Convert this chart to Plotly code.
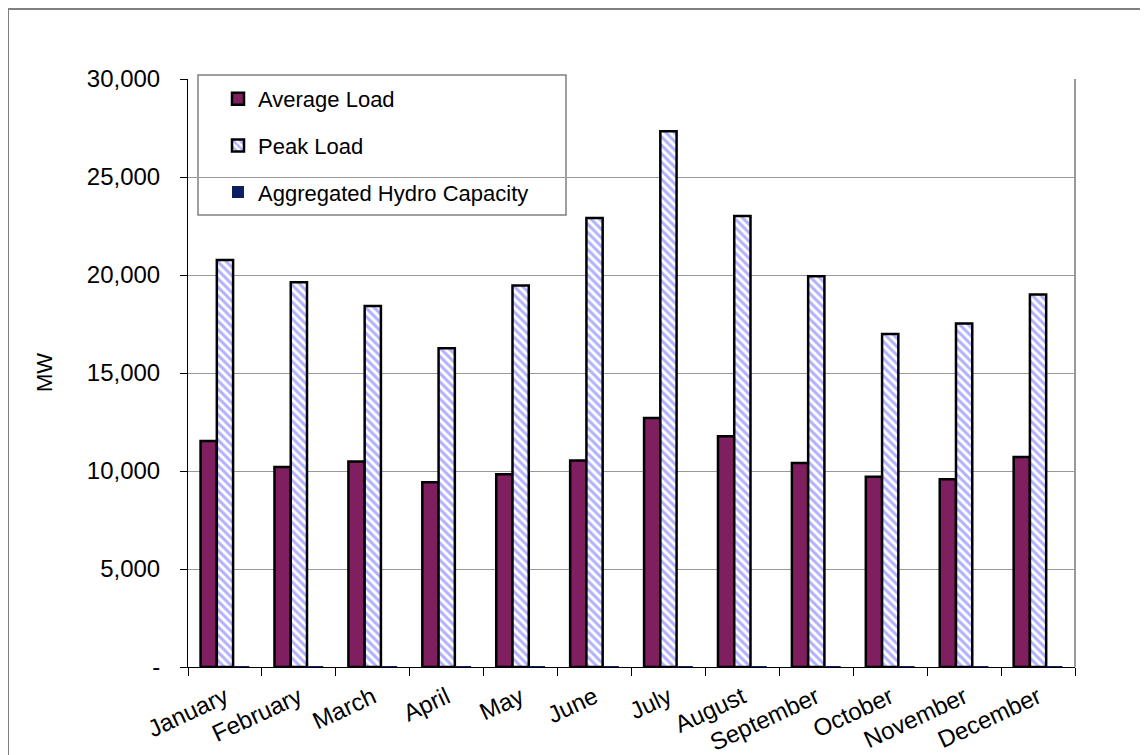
import plotly.graph_objects as go

months = ["January", "February", "March", "April", "May", "June", "July",
          "August", "September", "October", "November", "December"]
average_load = [11530, 10200, 10480, 9420, 9830, 10540, 12700, 11770, 10410, 9710, 9580, 10710]
peak_load = [20770, 19630, 18420, 16260, 19470, 22910, 27330, 23010, 19930, 16990, 17520, 19010]
hydro_capacity = [50, 50, 50, 50, 50, 50, 50, 50, 50, 50, 50, 50]

y_tickvals = [0, 5000, 10000, 15000, 20000, 25000, 30000]
y_ticktext = ["-", "5,000", "10,000", "15,000", "20,000", "25,000", "30,000"]

FONT = "Liberation Sans, Arial, sans-serif"

fig = go.Figure()
fig.add_trace(go.Bar(
    x=months, y=average_load, name="Average Load",
    marker=dict(color="#7F1F5F", line=dict(color="black", width=2.5)),
    legendgroup="a",
))
fig.add_trace(go.Bar(
    x=months, y=peak_load, name="Peak Load",
    marker=dict(color="white", line=dict(color="black", width=2.5),
                pattern=dict(shape="\\", fgcolor="#6464FF", bgcolor="white",
                             size=6, solidity=0.5)),
    legendgroup="b",
))
fig.add_trace(go.Bar(
    x=months, y=hydro_capacity, name="Aggregated Hydro Capacity",
    marker=dict(color="#0D1F63", line=dict(width=0)),
    legendgroup="c",
))

# page body has an 8px margin; work in screen pixels and shift
O = 8
FW, FH = 1148 - O, 755 - O
L, R, T, B = 188 - O, 1075 - O, 79 - O, 667 - O
W, H = R - L, B - T
px = lambda x: (x - O - L) / W
py = lambda y: (B - (y - O)) / H

fig.update_layout(
    width=FW, height=FH,
    margin=dict(l=L, r=FW - R, t=T, b=FH - B, autoexpand=False),
    paper_bgcolor="white", plot_bgcolor="white",
    font=dict(family=FONT, size=22, color="black"),
    barmode="group", bargap=0.34, bargroupgap=0,
    showlegend=True,
    legend=dict(
        x=px(218), y=py(78), xanchor="left", yanchor="top",
        bgcolor="rgba(0,0,0,0)", borderwidth=0,
        font=dict(family=FONT, size=22, color="black"),
        tracegroupgap=15, traceorder="grouped", itemwidth=30,
    ),
    xaxis=dict(
        type="category", showgrid=False, showline=True, linecolor="black", linewidth=1,
        ticks="outside", tickson="boundaries", ticklen=8, tickcolor="black",
        tickangle=-25, tickfont=dict(family=FONT, size=24), automargin=False,
        ticklabelstandoff=6,
    ),
    yaxis=dict(
        range=[0, 30000], tickvals=y_tickvals, ticktext=y_ticktext,
        showgrid=True, gridcolor="#999999", gridwidth=1,
        showline=True, linecolor="black", linewidth=1,
        ticks="outside", ticklen=7, tickcolor="black",
        tickfont=dict(family=FONT, size=24), ticklabelstandoff=15,
        automargin=False, zeroline=False,
    ),
    shapes=[
        # legend box
        dict(type="rect", xref="paper", yref="paper", x0=px(198), x1=px(566),
             y0=py(215), y1=py(75), line=dict(color="#808080", width=1.5),
             fillcolor="white", layer="between"),
        # right border of plot area
        dict(type="line", xref="paper", yref="paper", x0=1, x1=1, y0=0, y1=1,
             line=dict(color="#999999", width=2)),
        # outer chart border (left and top)
        dict(type="line", xref="paper", yref="paper", x0=px(8), x1=px(8),
             y0=py(800), y1=py(9), line=dict(color="#808080", width=2)),
        dict(type="line", xref="paper", yref="paper", x0=px(8), x1=px(1200),
             y0=py(9), y1=py(9), line=dict(color="#808080", width=2)),
    ],
    annotations=[
        dict(text="MW", xref="paper", yref="paper", x=px(44), y=py(373),
             showarrow=False, textangle=-90, font=dict(family=FONT, size=22),
             xanchor="center", yanchor="middle"),
    ],
)

fig.write_html("out.html")
